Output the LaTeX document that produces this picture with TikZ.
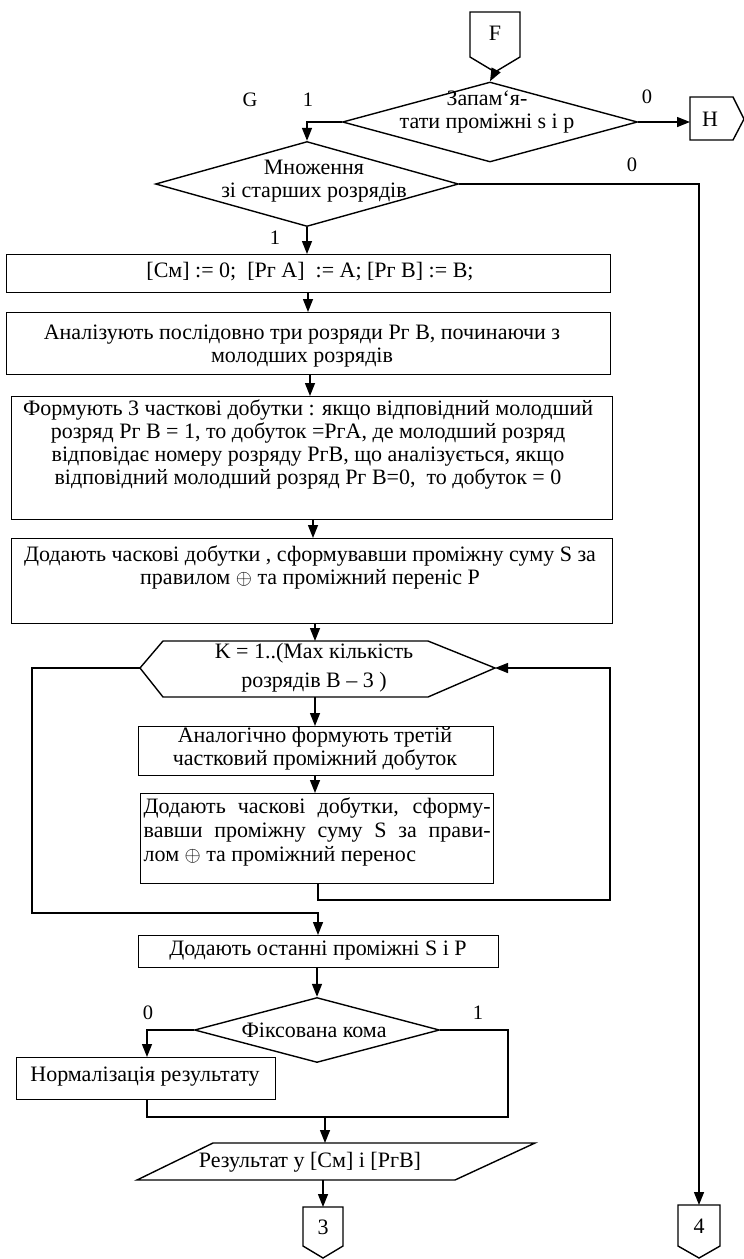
\documentclass[tikz,border=0pt]{standalone}
\usepackage{fontspec}
\setmainfont{Liberation Serif}
\usetikzlibrary{arrows.meta,shapes.geometric,calc}

% process box given by its top-left and bottom-right corners
\newcommand\pbox[5]{\node[procbox,minimum width={#4pt-#2pt},minimum height={#5pt-#3pt}] (#1) at (#2,#3) {};}

\begin{document}
\begin{tikzpicture}[x=1pt,y=-1pt,line width=1.4pt,
  arr/.style={-{Triangle[length=13pt,width=10pt]}},
  procbox/.style={draw,rectangle,inner sep=0pt,anchor=north west},
  decision/.style={draw,diamond,inner sep=0pt},
  txt/.style={font=\fontsize{22}{23}\selectfont,inner sep=0pt,align=center},
  conn/.style={font=\fontsize{22}{23}\selectfont,inner sep=0pt},
  lbl/.style={font=\fontsize{20.5}{22}\selectfont,inner sep=0pt}]

\useasboundingbox (0,0) rectangle (744,1259);

% ---- off-page connectors ----
\draw (470,12) -- (520,12) -- (520,57) -- (495,72) -- (470,57) -- cycle;
\node[conn] (cF) at (495,33) {F};
\coordinate (cFtip) at (495,72);

\draw (690,97) -- (733,97) -- (744,119) -- (733,140) -- (690,140) -- cycle;
\node[conn] (cH) at (710,119) {H};
\coordinate (cHin) at (690,122);

\draw (303,1207) -- (343,1207) -- (343,1246) -- (323,1258) -- (303,1246) -- cycle;
\node[conn] (c3) at (323,1227) {3};
\coordinate (c3top) at (323,1207);

\draw (678,1205) -- (720,1205) -- (720,1246) -- (699,1258) -- (678,1246) -- cycle;
\node[conn] (c4) at (699,1226) {4};
\coordinate (c4top) at (699,1205);

% ---- decisions at the top ----
\node[decision,minimum width=295pt,minimum height=80pt] (d1) at (490,122) {};
\node[txt] (d1t) at (487,112) {Запам‘я-\\тати проміжні s i p};

\node[decision,minimum width=303pt,minimum height=85pt] (d2) at (307,184) {};
\node[txt] (d2t) at (314,181) {Множення\\зі старших розрядів};

\node[lbl] (lG) at (250,100) {G};
\node[lbl] (l1a) at (308,100) {1};
\node[lbl] (l0a) at (647,97) {0};
\node[lbl] (l0b) at (632,165) {0};
\node[lbl] (l1b) at (275,238) {1};

% ---- process boxes ----
\pbox{b1}{6}{254}{610}{292}
\node[txt] (b1t) at (310,272) {[См] := 0;~ [Рг A]~ := A; [Рг B] := B;};

\pbox{b2}{6}{312}{610}{374}
\node[txt] (b2t) at (302,346) {Аналізують послідовно три розряди Рг В, починаючи з\\молодших розрядів};

\pbox{b3}{11}{396}{612}{519}
\node[txt] (b3t) at (308,444) {Формують 3 часткові добутки : якщо відповідний молодший\\
розряд Рг В = 1, то добуток =РгА, де молодший розряд\\
відповідає номеру розряду РгВ, що аналізується, якщо\\
відповідний молодший розряд Рг В=0,~ то добуток = 0};

\pbox{b4}{11}{538}{612}{623}
\node[txt] (b4t) at (310,567) {Додають часкові добутки , сформувавши проміжну суму S за\\правилом $\oplus$ та проміжний переніс Р};

% ---- loop header ----
\coordinate (hxL) at (140,668);
\coordinate (hxR) at (495,668);
\coordinate (hxT) at (315,641);
\coordinate (hxB) at (315,697);
\draw (hxL) -- (163,641) -- (428,641) -- (hxR) -- (428,697) -- (163,697) -- cycle;
\node[txt] (hxt) at (314,668) {K = 1..(Max кількість\\[6pt]розрядів В – 3 )};

\pbox{b5}{138}{726}{493}{775}
\node[txt] (b5t) at (315,749) {Аналогічно формують третій\\частковий проміжний добуток};

\pbox{b6}{140}{793}{493}{883}
\node[txt,align=left,anchor=west] (b6t) at (143,832) {\makebox[347pt][s]{Додають часкові добутки, сформу-}\\[1pt]
\makebox[347pt][s]{вавши проміжну суму S за прави-}\\[1pt]
лом $\oplus$ та проміжний перенос};

\pbox{b7}{138}{935}{498}{967}
\node[txt] (b7t) at (318,951) {Додають останні проміжні S і P};

\node[decision,minimum width=245pt,minimum height=65pt] (d3) at (317,1030) {};
\node[txt] (d3t) at (314,1030) {Фіксована кома};
\node[lbl] (l0c) at (148,1013) {0};
\node[lbl] (l1c) at (478,1013) {1};

\pbox{b8}{16}{1057}{275}{1099}
\node[txt] (b8t) at (145,1077) {Нормалізація результату};

% ---- output ----
\coordinate (parT) at (325,1143);
\coordinate (parB) at (323,1180);
\draw (213,1143) -- (535,1143) -- (455,1180) -- (137,1180) -- cycle;
\node[txt] (part) at (310,1162) {Результат у [См] і [РгВ]};

% ---- connectors ----
\draw[arr] (cFtip) -- (d1.north);
\draw[arr] (d1.west) -| (d2.north);
\draw[arr] (d1.east) -- (cHin);
\draw[arr] (d2.east) -| (c4top);
\draw[arr] (d2.south) -- (d2.south |- b1.north);
\draw[arr] (308,292) -- (308,312);
\draw[arr] (310,374) -- (310,396);
\draw[arr] (313,519) -- (313,538);
\draw[arr] (hxT |- b4.south) -- (hxT);
\draw[arr] (hxB) -- (hxB |- b5.north);
\draw[arr] (315,775) -- (315,793);
\draw[arr] (hxL) -- (32,668) -- (32,913) -- (318,913) -- (318,935);
\draw[arr] (318,883) -- (318,900) -- (610,900) -- (610,668) -- (hxR);
\draw[arr] (317,967) -- (d3.north);
\draw[arr] (d3.west) -| (b8.north -| 147,0);
\coordinate (mrg) at (508,1117);
\draw (d3.east) -| (mrg) -- (147,1117) -- (b8.south -| 147,0);
\draw[arr] (325,1117) -- (parT);
\draw[arr] (parB) -- (c3top);

\end{tikzpicture}
\end{document}
